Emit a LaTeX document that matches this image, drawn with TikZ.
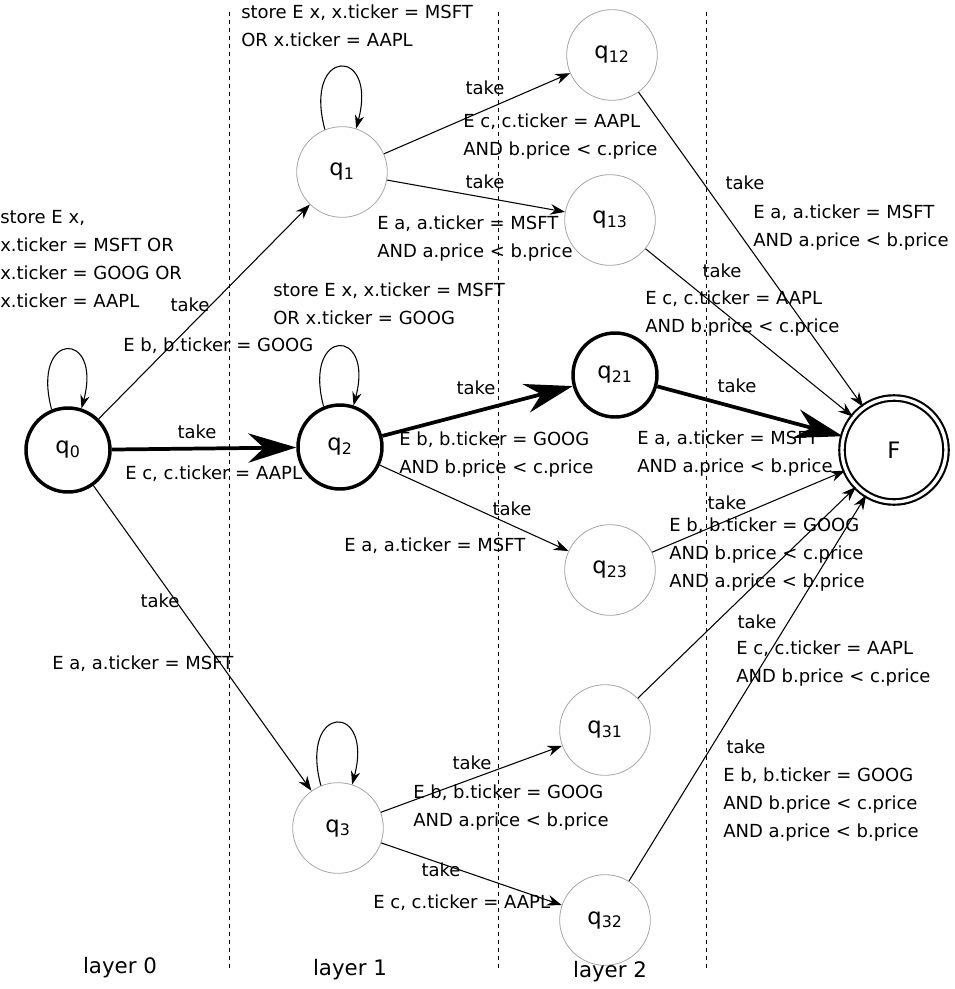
\documentclass[tikz,border=0pt]{standalone}
\usepackage{fontspec}
\setmainfont{DejaVu Sans}
\usetikzlibrary{arrows.meta}
\begin{document}
\begin{tikzpicture}[x=0.75pt,y=0.75pt,
  st/.style={circle,draw=black!35,line width=0.6pt,minimum size=68pt,inner sep=0pt,font=\fontsize{17}{18}\selectfont},
  sth/.style={st,draw=black,line width=2.6pt,minimum size=63pt},
  fin/.style={circle,draw=black,line width=1.6pt,double=white,double distance=2.5pt,minimum size=78pt,font=\fontsize{17}{18}\selectfont},
  tr/.style={-{Stealth[length=11pt,width=8pt]},line width=0.8pt},
  trh/.style={-{Stealth[length=36pt,width=22pt]},line width=2.8pt},
  lp/.style={-{Stealth[length=10pt,width=7pt]},line width=0.8pt,looseness=7},
  lb/.style={anchor=base west,inner sep=0pt,align=left,font=\fontsize{13.5}{21}\selectfont},
  lt/.style={inner sep=0pt,font=\fontsize{13.5}{21}\selectfont},
  lay/.style={inner sep=0pt,font=\fontsize{16}{18}\selectfont},
  sep/.style={dashed,line width=0.7pt}]
\useasboundingbox (0,0) rectangle (954,-989);
\draw[sep] (229,-12) -- (229,-970);
\draw[sep] (498,-12) -- (498,-970);
\draw[sep] (706,-12) -- (706,-970);
\node[sth] (q0) at (68,-450) {q$_{\mathrm{0}}$};
\node[st] (q1) at (342,-172) {q$_{\mathrm{1}}$};
\node[sth] (q2) at (340,-447) {q$_{\mathrm{2}}$};
\node[st] (q3) at (338,-828) {q$_{\mathrm{3}}$};
\node[st] (q12) at (612,-55) {q$_{\mathrm{12}}$};
\node[st] (q13) at (610,-220) {q$_{\mathrm{13}}$};
\node[sth] (q21) at (615,-375) {q$_{\mathrm{21}}$};
\node[st] (q23) at (610,-570) {q$_{\mathrm{23}}$};
\node[st] (q31) at (605,-730) {q$_{\mathrm{31}}$};
\node[st] (q32) at (605,-920) {q$_{\mathrm{32}}$};
\node[fin] (F) at (894,-450) {F};
\node[lay] (l0) at (120,-968) {layer 0};
\node[lay] (l1) at (350,-970) {layer 1};
\node[lay] (l2) at (610,-972) {layer 2};
% loops
\draw[lp] (q0.112) to[out=105,in=75] (q0.72);
\draw[lp] (q1.112) to[out=105,in=75] (q1.72);
\draw[lp] (q2.112) to[out=105,in=75] (q2.72);
\draw[lp] (q3.112) to[out=105,in=75] (q3.72);
% edges
\draw[tr] (q0) -- (q1);
\draw[trh] (q0) -- (q2);
\draw[tr] (q0) -- (q3);
\draw[tr] (q1) -- (q12);
\draw[tr] (q1) -- (q13);
\draw[trh] (q2) -- (q21);
\draw[tr] (q2) -- (q23);
\draw[tr] (q3) -- (q31);
\draw[tr] (q3) -- (q32);
\draw[tr] (q12) -- (F);
\draw[tr] (q13) -- (F);
\draw[trh] (q21) -- (F);
\draw[tr] (q23) -- (F);
\draw[tr] (q31) -- (F);
\draw[tr] (q32) -- (F);
% labels (base = last line)
\node[lb] (a1) at (0,-307) {store E x,\\x.ticker = MSFT OR\\x.ticker = GOOG OR\\x.ticker = AAPL};
\node[lt] (a2) at (190,-305) {take};
\node[lb] (a3) at (123,-351) {E b, b.ticker = GOOG};
\node[lt] (a4) at (197,-432) {take};
\node[lb] (a5) at (125,-479) {E c, c.ticker = AAPL};
\node[lt] (a6) at (160,-601) {take};
\node[lb] (a7) at (52,-669) {E a, a.ticker = MSFT};
\node[lb] (b1) at (241,-46) {store E x, x.ticker = MSFT\\OR x.ticker = AAPL};
\node[lt] (b2) at (485,-88) {take};
\node[lb] (b3) at (463,-155) {E c, c.ticker = AAPL\\AND b.price < c.price};
\node[lt] (b4) at (485,-182) {take};
\node[lb] (b5) at (377,-257) {E a, a.ticker = MSFT\\AND a.price < b.price};
\node[lb] (b6) at (273,-324) {store E x, x.ticker = MSFT\\OR x.ticker = GOOG};
\node[lt] (b7) at (476,-388) {take};
\node[lb] (b8) at (399,-473) {E b, b.ticker = GOOG\\AND b.price < c.price};
\node[lt] (b9) at (512,-509) {take};
\node[lb] (b10) at (344,-551) {E a, a.ticker = MSFT};
\node[lt] (c1) at (472,-763) {take};
\node[lb] (c2) at (413,-826) {E b, b.ticker = GOOG\\AND a.price < b.price};
\node[lt] (c3) at (441,-870) {take};
\node[lb] (c4) at (373,-908) {E c, c.ticker = AAPL};
\node[lt] (d1) at (745,-183) {take};
\node[lb] (d2) at (753,-246) {E a, a.ticker = MSFT\\AND a.price < b.price};
\node[lt] (d3) at (722,-271) {take};
\node[lb] (d4) at (645,-332) {E c, c.ticker = AAPL\\AND b.price < c.price};
\node[lt] (d5) at (737,-386) {take};
\node[lb] (d6) at (637,-472) {E a, a.ticker = MSFT\\AND a.price < b.price};
\node[lt] (d7) at (727,-503) {take};
\node[lb] (d8) at (669,-587) {E b, b.ticker = GOOG\\AND b.price < c.price\\AND a.price < b.price};
\node[lt] (d9) at (757,-622) {take};
\node[lb] (d10) at (736,-682) {E c, c.ticker = AAPL\\AND b.price < c.price};
\node[lt] (d11) at (746,-747) {take};
\node[lb] (d12) at (723,-837) {E b, b.ticker = GOOG\\AND b.price < c.price\\AND a.price < b.price};
\end{tikzpicture}
\end{document}
